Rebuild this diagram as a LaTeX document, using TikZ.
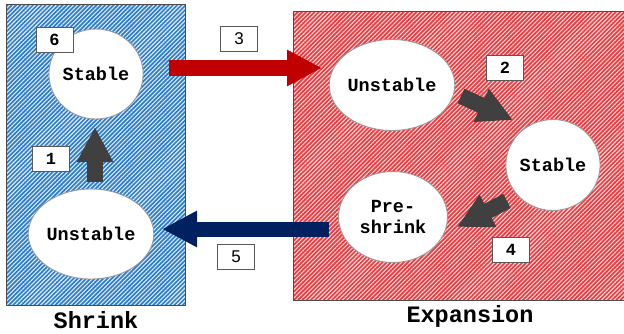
\documentclass[tikz,border=0pt]{standalone}
\usepackage{fontspec}
\setmonofont{Liberation Mono}
\newfontfamily\lsans{Liberation Sans}
\usetikzlibrary{patterns.meta,arrows.meta,shapes.geometric}
\definecolor{bluebg}{RGB}{45,125,205}
\definecolor{redbg}{RGB}{240,55,60}
\definecolor{arrred}{RGB}{192,0,0}
\definecolor{arrblue}{RGB}{0,32,96}
\definecolor{arrgray}{RGB}{64,64,64}
\begin{document}
\begin{tikzpicture}[x=1pt,y=-1pt,
  panel/.style={draw=black!70, line width=0.8pt},
  state/.style={ellipse, draw=gray!80, line width=0.9pt, fill=white, inner sep=0pt,
    align=center, font=\ttfamily\bfseries\fontsize{18.5}{21}\selectfont},
  numbox/.style={draw=black!65, line width=0.8pt, fill=white, minimum width=37pt, minimum height=25pt, inner sep=0pt,
    font=\ttfamily\bfseries\fontsize{17}{19}\selectfont},
  sansbox/.style={numbox, font=\lsans\fontsize{17}{19}\selectfont},
  title/.style={anchor=base, inner sep=1pt, font=\ttfamily\bfseries\fontsize{23.5}{26}\selectfont},
  fat/.style={line width=16pt, -{Triangle[length=35pt,width=34pt]}}
]
\useasboundingbox (0,0) rectangle (624,333);
\clip (0,0) rectangle (624,333);
\fill[white] (0,0) rectangle (624,333);
% panels
\fill[bluebg] (6,4) rectangle (185,305);
\fill[pattern={Lines[angle=45,distance=3pt,line width=1.1pt]}, pattern color=white!85!bluebg] (6,4) rectangle (185,305);
\draw[panel] (6,4) rectangle (185,305);
\fill[redbg] (293,11) rectangle (630,300);
\fill[pattern={Lines[angle=45,distance=3pt,line width=1.1pt]}, pattern color=white!80!redbg] (293,11) rectangle (630,300);
\draw[panel] (630,11) -- (293,11) -- (293,300) -- (630,300);

% states
\node[state, minimum width=90pt, minimum height=90pt] (s1) at (96,74) {Stable};
\node[state, minimum width=110pt, minimum height=90pt] (u1) at (91,234) {Unstable};
\node[state, minimum width=120pt, minimum height=91pt] (u2) at (392,85) {Unstable};
\node[state, minimum width=90pt, minimum height=91pt] (s2) at (553,165) {Stable};
\node[state, minimum width=109pt, minimum height=91pt] (p2) at (393,217) {Pre-\\shrink};

% arrow anchor coordinates
\coordinate (a1s) at (95,182); \coordinate (a1e) at (95,127);
\coordinate (a2s) at (461,96); \coordinate (a2e) at (513,120);
\coordinate (a3s) at (169,68); \coordinate (a3e) at (322,68);
\coordinate (a4s) at (507,201); \coordinate (a4e) at (457,227);
\coordinate (a5s) at (329,229); \coordinate (a5e) at (162,229);

\draw[fat, arrgray] (a1s) -- (a1e);
\draw[fat, arrgray] (a2s) -- (a2e);
\draw[fat, arrred] (a3s) -- (a3e);
\draw[fat, arrgray] (a4s) -- (a4e);
\draw[fat, arrblue, line width=15pt] (a5s) -- (a5e);

% number labels
\node[numbox] (n6) at (54.5,40) {6};
\node[numbox] (n1) at (51,159) {1};
\node[sansbox] (n3) at (239,39) {3};
\node[sansbox] (n5) at (236,257) {5};
\node[numbox] (n2) at (505,67.5) {2};
\node[numbox] (n4) at (511,249.5) {4};

% titles
\node[title] (t1) at (96,328.5) {Shrink};
\node[title] (t2) at (470,322) {Expansion};
\end{tikzpicture}
\end{document}
